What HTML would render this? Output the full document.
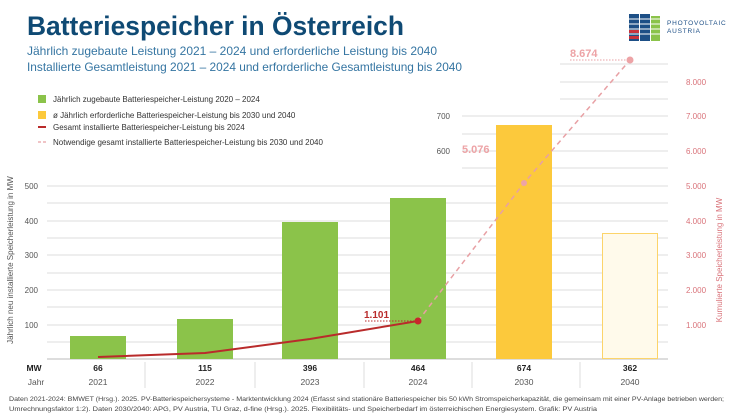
<!DOCTYPE html>
<html><head><meta charset="utf-8"><style>
body{margin:0;background:#fff;}
svg{display:block;font-family:"Liberation Sans",sans-serif;}
</style></head><body>
<svg width="732" height="416" viewBox="0 0 732 416" xmlns="http://www.w3.org/2000/svg">
<text x="27" y="35" font-size="26.5" font-weight="bold" fill="#0f4a74" textLength="377" lengthAdjust="spacingAndGlyphs">Batteriespeicher in Österreich</text>
<text x="27" y="55" font-size="12" fill="#3575a2" textLength="410" lengthAdjust="spacingAndGlyphs">Jährlich zugebaute Leistung 2021 – 2024 und erforderliche Leistung bis 2040</text>
<text x="27" y="71" font-size="12" fill="#3575a2" textLength="435" lengthAdjust="spacingAndGlyphs">Installierte Gesamtleistung 2021 – 2024 und erforderliche Gesamtleistung bis 2040</text>
<!-- logo -->
<g>
<rect x="629" y="14" width="10" height="27" fill="#1d4f86"/>
<rect x="640" y="14" width="10" height="27" fill="#1d4f86"/>
<rect x="651" y="16" width="9" height="25" fill="#8bc34a"/>
<g stroke="#fff" stroke-width="1">
<line x1="629" y1="19" x2="660" y2="19"/><line x1="629" y1="24" x2="660" y2="24"/><line x1="629" y1="29" x2="660" y2="29"/><line x1="629" y1="34" x2="660" y2="34"/>
</g>
<rect x="629" y="30" width="10" height="3" fill="#c8323c"/><rect x="629" y="36" width="10" height="3" fill="#c8323c"/>
<text x="667" y="25" font-size="6.5" fill="#1d4f86" letter-spacing="0.8">PHOTOVOLTAIC</text>
<text x="667" y="33" font-size="6.5" fill="#1d4f86" letter-spacing="0.8">AUSTRIA</text>
</g>
<!-- legend -->
<rect x="38" y="95" width="8" height="8" fill="#8bc34a"/>
<text x="53" y="102" font-size="8" fill="#333">Jährlich zugebaute Batteriespeicher-Leistung 2020 – 2024</text>
<rect x="38" y="111" width="8" height="8" fill="#fcc93c"/>
<text x="53" y="118" font-size="8" fill="#333">ø Jährlich erforderliche Batteriespeicher-Leistung bis 2030 und 2040</text>
<line x1="38" y1="127" x2="46" y2="127" stroke="#b92b2b" stroke-width="2"/>
<text x="53" y="130" font-size="8" fill="#333">Gesamt installierte Batteriespeicher-Leistung bis 2024</text>
<line x1="38" y1="142" x2="46" y2="142" stroke="#e8a0a4" stroke-width="1.2" stroke-dasharray="3,2"/>
<text x="53" y="145" font-size="8" fill="#333">Notwendige gesamt installierte Batteriespeicher-Leistung bis 2030 und 2040</text>
<!-- grid -->
<g stroke="#ddd" stroke-width="1">
<line x1="47" y1="342" x2="668" y2="342"/><line x1="47" y1="325" x2="668" y2="325"/><line x1="47" y1="307" x2="668" y2="307"/><line x1="47" y1="290" x2="668" y2="290"/><line x1="47" y1="273" x2="668" y2="273"/><line x1="47" y1="255" x2="668" y2="255"/><line x1="47" y1="238" x2="668" y2="238"/><line x1="47" y1="221" x2="668" y2="221"/><line x1="47" y1="203" x2="668" y2="203"/><line x1="47" y1="186" x2="668" y2="186"/>
<line x1="462" y1="168" x2="668" y2="168"/><line x1="462" y1="151" x2="668" y2="151"/><line x1="462" y1="134" x2="668" y2="134"/><line x1="462" y1="116" x2="668" y2="116"/><line x1="560" y1="99" x2="668" y2="99"/><line x1="560" y1="82" x2="668" y2="82"/><line x1="560" y1="64" x2="668" y2="64"/>
</g>
<line x1="47" y1="359" x2="668" y2="359" stroke="#bbb"/>
<g font-size="8" fill="#555" text-anchor="end">
<text x="38" y="328">100</text><text x="38" y="293">200</text><text x="38" y="258">300</text><text x="38" y="224">400</text><text x="38" y="189">500</text>
<text x="450" y="154">600</text><text x="450" y="119">700</text>
</g>
<g font-size="8" fill="#d9737a">
<text x="686" y="328">1.000</text><text x="686" y="293">2.000</text><text x="686" y="258">3.000</text><text x="686" y="224">4.000</text><text x="686" y="189">5.000</text><text x="686" y="154">6.000</text><text x="686" y="119">7.000</text><text x="686" y="85">8.000</text>
</g>
<text transform="translate(13,260) rotate(-90)" font-size="8" fill="#555" text-anchor="middle">Jährlich neu installierte Speicherleistung in MW</text>
<text transform="translate(722,260) rotate(-90)" font-size="8" fill="#d9737a" text-anchor="middle">Kumulierte Speicherleistung in MW</text>
<!-- bars -->
<rect x="70" y="336" width="56" height="23" fill="#8bc34a"/>
<rect x="177" y="319" width="56" height="40" fill="#8bc34a"/>
<rect x="282" y="222" width="56" height="137" fill="#8bc34a"/>
<rect x="390" y="198" width="56" height="161" fill="#8bc34a"/>
<rect x="496" y="125" width="56" height="234" fill="#fcc93c"/>
<rect x="602.5" y="233.5" width="55" height="125" fill="#fffaeb" stroke="#fcd46a"/>
<!-- lines -->
<polyline points="418,321 524,183 630,60" fill="none" stroke="#e8a0a4" stroke-width="1.5" stroke-dasharray="5,4"/>
<polyline points="98,357 205,353 310,339 418,321" fill="none" stroke="#b92b2b" stroke-width="2"/>
<circle cx="418" cy="321" r="3.5" fill="#c8262c"/>
<circle cx="524" cy="183" r="3" fill="#eda3a6"/>
<circle cx="630" cy="60" r="3.5" fill="#eda3a6"/>
<line x1="365" y1="321" x2="415" y2="321" stroke="#b92b2b" stroke-dasharray="1.5,1.5"/>
<text x="364" y="318" font-size="10" font-weight="bold" fill="#b92b2b">1.101</text>
<line x1="570" y1="60" x2="626" y2="60" stroke="#e8a0a4" stroke-dasharray="1.5,1.5"/>
<text x="570" y="57" font-size="11" font-weight="bold" fill="#eda3a6">8.674</text>
<text x="462" y="153" font-size="11" font-weight="bold" fill="#eda3a6">5.076</text>
<!-- table -->
<g stroke="#ddd"><line x1="145" y1="362" x2="145" y2="388"/><line x1="255" y1="362" x2="255" y2="388"/><line x1="364" y1="362" x2="364" y2="388"/><line x1="472" y1="362" x2="472" y2="388"/><line x1="580" y1="362" x2="580" y2="388"/></g>
<g font-size="8.5" font-weight="bold" fill="#222" text-anchor="middle">
<text x="34" y="371">MW</text><text x="98" y="371">66</text><text x="205" y="371">115</text><text x="310" y="371">396</text><text x="418" y="371">464</text><text x="524" y="371">674</text><text x="630" y="371">362</text>
</g>
<g font-size="8.5" fill="#555" text-anchor="middle">
<text x="36" y="385">Jahr</text><text x="98" y="385">2021</text><text x="205" y="385">2022</text><text x="310" y="385">2023</text><text x="418" y="385">2024</text><text x="524" y="385">2030</text><text x="630" y="385">2040</text>
</g>
<text x="9" y="401" font-size="6.8" fill="#444" textLength="715" lengthAdjust="spacingAndGlyphs">Daten 2021-2024: BMWET (Hrsg.). 2025. PV-Batteriespeichersysteme -  Marktentwicklung 2024 (Erfasst sind stationäre Batteriespeicher bis 50 kWh Stromspeicherkapazität, die gemeinsam mit einer PV-Anlage betrieben werden;</text>
<text x="9" y="411" font-size="6.8" fill="#444" textLength="588" lengthAdjust="spacingAndGlyphs">Umrechnungsfaktor 1:2). Daten 2030/2040: APG, PV Austria, TU Graz, d-fine (Hrsg.). 2025. Flexibilitäts- und Speicherbedarf im österreichischen Energiesystem. Grafik: PV Austria</text>
</svg>
</body></html>
